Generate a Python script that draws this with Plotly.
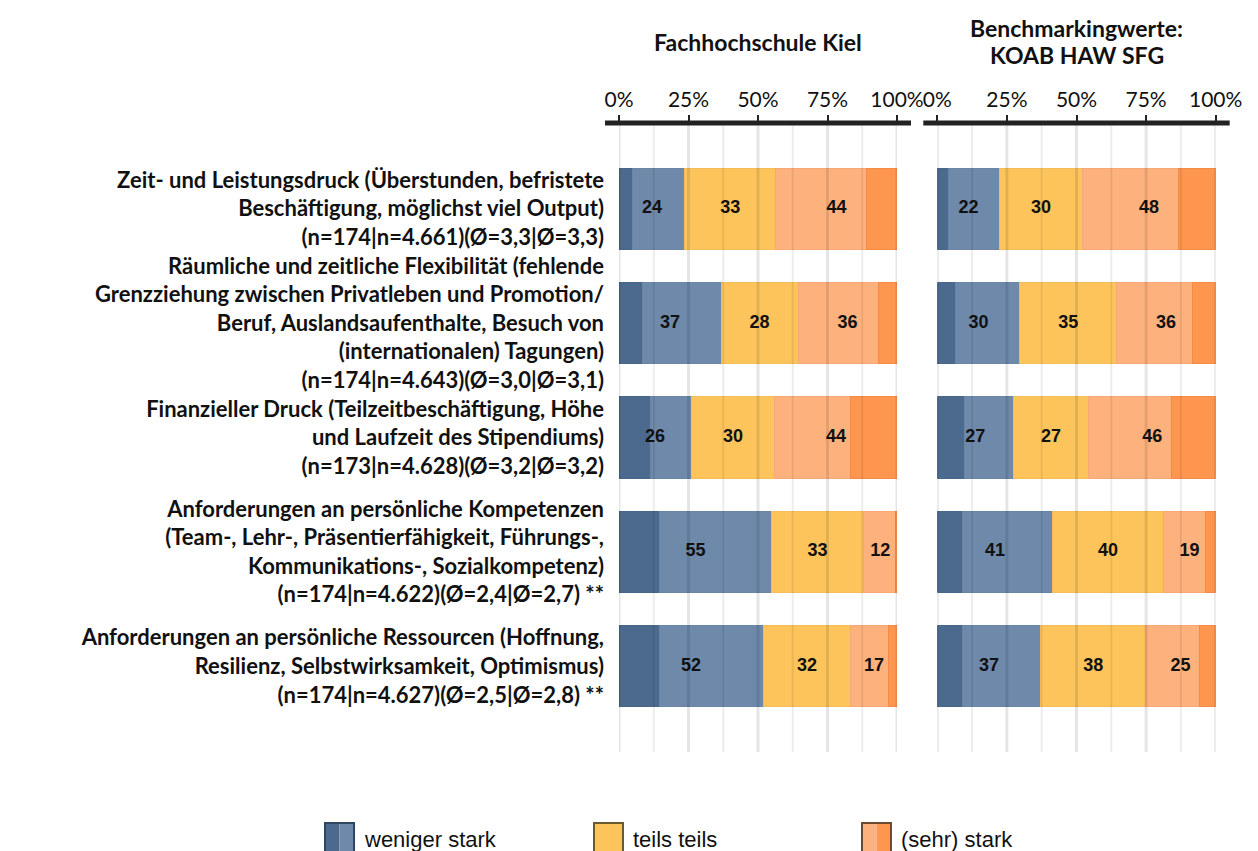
import plotly.graph_objects as go

# Survey items (Belastungsfaktoren), top to bottom
categories = [
    "Zeit- und Leistungsdruck (Überstunden, befristete<br>Beschäftigung, möglichst viel Output)<br>(n=174|n=4.661)(Ø=3,3|Ø=3,3)",
    "Räumliche und zeitliche Flexibilität (fehlende<br>Grenzziehung zwischen Privatleben und Promotion/<br>Beruf, Auslandsaufenthalte, Besuch von<br>(internationalen) Tagungen)<br>(n=174|n=4.643)(Ø=3,0|Ø=3,1)",
    "Finanzieller Druck (Teilzeitbeschäftigung, Höhe<br>und Laufzeit des Stipendiums)<br>(n=173|n=4.628)(Ø=3,2|Ø=3,2)",
    "Anforderungen an persönliche Kompetenzen<br>(Team-, Lehr-, Präsentierfähigkeit, Führungs-,<br>Kommunikations-, Sozialkompetenz)<br>(n=174|n=4.622)(Ø=2,4|Ø=2,7) **",
    "Anforderungen an persönliche Ressourcen (Hoffnung,<br>Resilienz, Selbstwirksamkeit, Optimismus)<br>(n=174|n=4.627)(Ø=2,5|Ø=2,8) **",
]

# panel headings, one entry per text line
panel_titles = [["Fachhochschule Kiel"], ["Benchmarkingwerte:", "KOAB HAW SFG"]]
tick_vals = [0, 25, 50, 75, 100]
tick_text = ["0%", "25%", "50%", "75%", "100%"]

# Shares in percent: gar nicht, wenig, teils teils, stark, sehr stark
kiel_gar_nicht = [4.7, 8.3, 11.2, 14.7, 14.7]
kiel_wenig = [19.0, 28.4, 14.7, 40.3, 37.1]
kiel_teils = [32.7, 27.7, 30.2, 32.9, 31.6]
kiel_stark = [32.5, 28.8, 27.0, 11.5, 13.6]
kiel_sehr_stark = [11.1, 6.8, 16.9, 0.6, 3.0]

koab_gar_nicht = [4.2, 6.7, 9.9, 9.2, 9.2]
koab_wenig = [18.3, 23.0, 17.4, 32.2, 28.0]
koab_teils = [29.6, 34.6, 27.1, 39.8, 37.6]
koab_stark = [34.4, 27.2, 29.8, 15.3, 19.2]
koab_sehr_stark = [13.5, 8.5, 15.8, 3.5, 6.0]

legend_labels = ["weniger stark", "teils teils", "(sehr) stark"]

C_DARK_BLUE = "#4b6a8e"
C_LIGHT_BLUE = "#6e89aa"
C_YELLOW = "#fdc45b"
C_LIGHT_ORANGE = "#fdb27d"
C_DARK_ORANGE = "#fe9650"
seg_colors = [C_DARK_BLUE, C_LIGHT_BLUE, C_YELLOW, C_LIGHT_ORANGE, C_DARK_ORANGE]
seg_edges = ["#486788", "#6a85a5", "#f5bd58", "#f8a877", "#f58a45"]

W, H = 1258, 851
PLOT_TOP, PLOT_BOTTOM = 123, 752
panels = [
    dict(x0=619, x1=897, xa="x", ya="y",
         data=[kiel_gar_nicht, kiel_wenig, kiel_teils, kiel_stark, kiel_sehr_stark]),
    dict(x0=937.3, x1=1215.7, xa="x2", ya="y2",
         data=[koab_gar_nicht, koab_wenig, koab_teils, koab_stark, koab_sehr_stark]),
]

LABEL_FONT = "Lato, 'Open Sans', sans-serif"
NUM_FONT = "'Liberation Sans', Arial, sans-serif"

fig = go.Figure()

for p in panels:
    segs = p["data"]
    for k, vals in enumerate(segs):
        fig.add_trace(go.Bar(
            x=vals, y=categories, orientation="h",
            marker=dict(color=seg_colors[k], line=dict(color=seg_edges[k], width=1)),
            xaxis=p["xa"], yaxis=p["ya"], showlegend=False, hoverinfo="skip",
        ))
    # grouped values: weniger stark / teils teils / (sehr) stark
    groups = [
        [a + b for a, b in zip(segs[0], segs[1])],
        list(segs[2]),
        [a + b for a, b in zip(segs[3], segs[4])],
    ]
    xs, ys, texts = [], [], []
    for i in range(len(categories)):
        start = 0.0
        for g in groups:
            v = g[i]
            xs.append(start + v / 2)
            ys.append(categories[i])
            texts.append(f"{round(v):d}")
            start += v
    fig.add_trace(go.Scatter(
        x=xs, y=ys, mode="text", text=texts,
        textfont=dict(family=NUM_FONT, size=18, color="#111111", weight="bold"),
        xaxis=p["xa"], yaxis=p["ya"], showlegend=False, hoverinfo="skip",
    ))

shapes = []
annotations = []
for n, p in enumerate(panels):
    dx0, dx1 = p["x0"] / W, p["x1"] / W
    xa_name = "xaxis" if n == 0 else "xaxis2"
    ya_name = "yaxis" if n == 0 else "yaxis2"
    fig.layout[xa_name] = dict(
        domain=[dx0, dx1], range=[0, 100], side="top", anchor=p["ya"],
        tickvals=tick_vals, ticktext=tick_text, showgrid=False, zeroline=False,
        ticks="outside", ticklen=7, tickwidth=2, tickcolor="#222222",
        tickfont=dict(family=LABEL_FONT, size=21, color="#111111"),
        showline=False, fixedrange=True, automargin=False,
    )
    fig.layout[ya_name] = dict(
        domain=[1 - PLOT_BOTTOM / H, 1 - PLOT_TOP / H], anchor=p["xa"],
        type="category", range=[4.75, -0.75], showgrid=False, zeroline=False,
        showticklabels=(n == 0), ticks="", ticklabelstandoff=14,
        tickfont=dict(family=LABEL_FONT, size=22, color="#111111", weight="bold"),
        fixedrange=True, automargin=False,
    )
    # vertical gridlines drawn over the bars (major every 25 %, minor every 12.5 %)
    for j in range(9):
        xv = j * 12.5
        major = j % 2 == 0
        shapes.append(dict(
            type="line", xref=p["xa"], yref=f"{p['ya']} domain",
            x0=xv, x1=xv, y0=0, y1=1, layer="above",
            line=dict(color="rgba(0,0,0,0.10)" if major else "rgba(0,0,0,0.075)",
                      width=3 if major else 2),
        ))
    # thick axis bar along the top
    shapes.append(dict(
        type="line", xref="paper", yref="paper",
        x0=(p["x0"] - 14) / W, x1=(p["x1"] + 14) / W,
        y0=1 - PLOT_TOP / H, y1=1 - PLOT_TOP / H, layer="above",
        line=dict(color="#222222", width=5),
    ))
    lines = panel_titles[n]
    line_ys = [42] if len(lines) == 1 else [28, 55]
    for txt, ty in zip(lines, line_ys):
        annotations.append(dict(
            text=f"<b>{txt}</b>", xref="paper", yref="paper",
            x=(p["x0"] + p["x1"]) / 2 / W, y=1 - ty / H, xanchor="center", yanchor="middle",
            showarrow=False, font=dict(family=LABEL_FONT, size=23, color="#111111"),
        ))

# legend built from split swatches
legend_items = [
    (325, [C_DARK_BLUE, C_LIGHT_BLUE], "#2f4560"),
    (594, [C_YELLOW], "#6b5a30"),
    (862, [C_LIGHT_ORANGE, C_DARK_ORANGE], "#6b4a30"),
]
for (lx, cols, edge), lab in zip(legend_items, legend_labels):
    top, bot, wdt = 823, 858, 29
    part = wdt / len(cols)
    for m, c in enumerate(cols):
        shapes.append(dict(
            type="rect", xref="paper", yref="paper",
            x0=(lx + m * part) / W, x1=(lx + (m + 1) * part) / W,
            y0=1 - bot / H, y1=1 - top / H,
            fillcolor=c, line=dict(width=0),
        ))
    shapes.append(dict(
        type="rect", xref="paper", yref="paper",
        x0=lx / W, x1=(lx + wdt) / W, y0=1 - bot / H, y1=1 - top / H,
        fillcolor="rgba(0,0,0,0)", line=dict(color=edge, width=2),
    ))
    annotations.append(dict(
        text=lab, xref="paper", yref="paper", x=(lx + wdt + 8) / W, y=1 - 839 / H,
        xanchor="left", yanchor="middle", showarrow=False,
        font=dict(family=NUM_FONT, size=22, color="#111111"),
    ))

fig.update_layout(
    width=W, height=H, barmode="stack", bargap=0.29,
    margin=dict(l=0, r=0, t=0, b=0, autoexpand=False),
    paper_bgcolor="white", plot_bgcolor="white",
    shapes=shapes, annotations=annotations, showlegend=False,
)

fig.write_html("out.html", config={"displayModeBar": False})
